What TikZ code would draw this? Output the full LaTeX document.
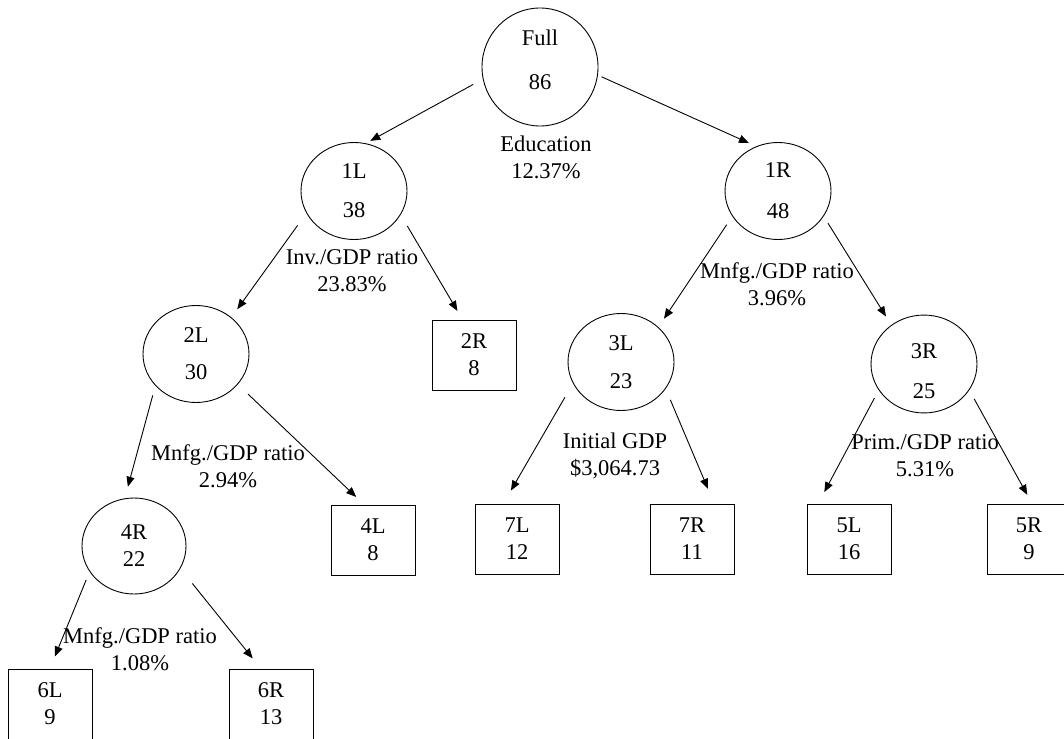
\documentclass[tikz,border=0pt]{standalone}
\usepackage{fontspec}
\setmainfont{Liberation Serif}
\usepackage{tikz}
\usetikzlibrary{arrows.meta, shapes.geometric, positioning}
\tikzset{
  splitnode/.style={
    ellipse, draw=black, line width=0.9pt,
    minimum width=106pt, minimum height=97pt,
    inner sep=0pt, align=center
  },
  leafnode/.style={
    rectangle, draw=black, line width=0.9pt,
    minimum width=84pt, minimum height=70pt,
    inner sep=0pt, align=center
  },
  cutlabel/.style={align=center, inner sep=0pt},
  arrow/.style={-{Triangle[length=10pt,width=8pt]}, line width=0.9pt, draw=black}
}

\begin{document}
\begin{tikzpicture}[x=1pt, y=-1pt, font=\fontsize{22.5}{27}\selectfont]
  \useasboundingbox (0,0) rectangle (1064,738);

  \node[splitnode, minimum width=116pt, minimum height=118pt] (full) at (540,67) {Full\\[17pt]86\rule[-14pt]{0pt}{14pt}};
  \node[splitnode] (n1L) at (354,191) {1L\\[12pt]38};
  \node[splitnode] (n1R) at (778,191) {1R\\[14pt]48};
  \node[splitnode] (n2L) at (196,354) {2L\\[10pt]30};
  \node[leafnode] (n2R) at (474,355) {2R\\8};
  \node[splitnode] (n3L) at (621,362) {3L\\[11pt]23};
  \node[splitnode] (n3R) at (924,364) {\rule{0pt}{29pt}3R\\[13pt]25};
  \node[splitnode, minimum width=104pt, minimum height=96pt] (n4R) at (134,546) {4R\\22};
  \node[leafnode] (n4L) at (373,540) {4L\\8};
  \node[leafnode] (n7L) at (517,539) {7L\\12};
  \node[leafnode] (n7R) at (692,539) {7R\\11};
  \node[leafnode] (n5L) at (849,539) {5L\\16};
  \node[leafnode] (n5R) at (1029,539) {5R\\9};
  \node[leafnode] (n6L) at (50,704) {6L\\9};
  \node[leafnode] (n6R) at (271,704) {6R\\13};

  \node[cutlabel] (edu) at (546,157) {Education\\12.37\%};
  \node[cutlabel] (inv) at (352,271) {Inv./GDP ratio\\23.83\%};
  \node[cutlabel] (mnfgA) at (777,284) {Mnfg./GDP ratio\\3.96\%};
  \node[cutlabel] (mnfgB) at (228,466) {Mnfg./GDP ratio\\2.94\%};
  \node[cutlabel] (initgdp) at (615,456) {Initial GDP\\\$3,064.73};
  \node[cutlabel] (prim) at (925,456) {Prim./GDP ratio\\5.31\%};
  \node[cutlabel] (mnfgC) at (140,649) {Mnfg./GDP ratio\\1.08\%};

  \draw[arrow, shorten <=11pt, shorten >=5pt] (full.192) -- (n1L.76);
  \draw[arrow, shorten <=4pt, shorten >=8pt] (full.352) -- (n1R.116);
  \draw[arrow, shorten <=15pt, shorten >=10pt] (n1L.205) -- (n2L.46);
  \draw[arrow, shorten <=13pt, shorten >=10pt] (n1L.333) -- (n2R.108);
  \draw[arrow, shorten <=10pt, shorten >=10pt] (n1R.209) -- (n3L.43);
  \draw[arrow, shorten <=8pt, shorten >=10pt] (n1R.331) -- (n3R.130);
  \draw[arrow, shorten <=10pt, shorten >=12pt] (n2L.218) -- (n4R.101);
  \draw[arrow, shorten <=14pt, shorten >=11pt] (n2L.324) -- (n4L.104);
  \draw[arrow, shorten <=16pt, shorten >=15pt] (n3L.204) -- (n7L.111);
  \draw[arrow, shorten <=12pt, shorten >=16pt] (n3L.329) -- (n7R.58);
  \draw[arrow, shorten <=9pt, shorten >=13pt] (n3R.210) -- (n5L.131);
  \draw[arrow, shorten <=10pt, shorten >=10pt] (n3R.330) -- (n5R.85);
  \draw[arrow, shorten <=9pt, shorten >=13pt] (n4R.210) -- (n6L.north);
  \draw[arrow, shorten <=19pt, shorten >=13pt] (n4R.334) -- (n6R.106);
\end{tikzpicture}
\end{document}
